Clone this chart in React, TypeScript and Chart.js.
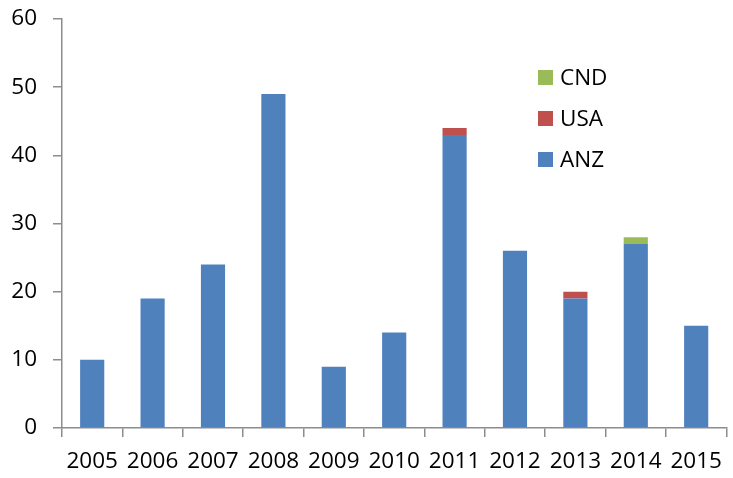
import React, { useEffect, useRef } from "react";
import { Chart, registerables } from "chart.js";

Chart.register(...registerables);

const years = ["2005", "2006", "2007", "2008", "2009", "2010", "2011", "2012", "2013", "2014", "2015"];
const anz = [10, 19, 24, 49, 9, 14, 43, 26, 19, 27, 15];
const usa = [0, 0, 0, 0, 0, 0, 1, 0, 1, 0, 0];
const cnd = [0, 0, 0, 0, 0, 0, 0, 0, 0, 1, 0];
const seriesNames = ["ANZ", "USA", "CND"];
const seriesColors = ["#4F81BD", "#C0504D", "#9BBB59"];

const FONT = '"Open Sans", "Liberation Sans", sans-serif';
const FONT_SIZE = 22.5;
const AXIS_COLOR = "#8C8C8C";

const insideLegend = {
  id: "insideLegend",
  afterDraw(chart: any) {
    const ctx = chart.ctx;
    const x0 = 538;
    const y0 = 70;
    const step = 41;
    const box = 15;
    ctx.save();
    ctx.font = `${FONT_SIZE}px ${FONT}`;
    ctx.textBaseline = "middle";
    ctx.textAlign = "left";
    const ds = chart.data.datasets.slice().reverse();
    ds.forEach((d: any, i: number) => {
      const y = y0 + i * step;
      ctx.fillStyle = d.backgroundColor;
      ctx.fillRect(x0, y, box, box);
      ctx.fillStyle = "#000";
      ctx.fillText(d.label, x0 + box + 7, y + box / 2 + 1);
    });
    ctx.restore();
  },
};

export default function App() {
  const ref = useRef<HTMLCanvasElement>(null);
  useEffect(() => {
    if (!ref.current) return;
    const data = [anz, usa, cnd];
    const chart = new Chart(ref.current, {
      type: "bar",
      data: {
        labels: years,
        datasets: seriesNames.map((name, i) => ({
          label: name,
          data: data[i],
          backgroundColor: seriesColors[i],
          borderWidth: 0,
          barPercentage: 0.4,
          categoryPercentage: 1,
        })),
      },
      options: {
        animation: false,
        responsive: true,
        maintainAspectRatio: false,
        layout: { padding: { left: 0, right: 2, top: 19, bottom: 0 } },
        plugins: {
          legend: { display: false },
          tooltip: { enabled: false },
        },
        scales: {
          x: {
            stacked: true,
            offset: true,
            grid: {
              display: true,
              offset: true,
              drawOnChartArea: false,
              drawTicks: true,
              tickLength: 9,
              color: AXIS_COLOR,
              lineWidth: 1.5,
            },
            border: { display: true, color: AXIS_COLOR, width: 1.5 },
            ticks: {
              color: "#000",
              font: { family: FONT, size: FONT_SIZE },
              padding: 11,
              maxRotation: 0,
              autoSkip: false,
            },
            afterFit: (s: any) => {
              s.height = 50;
            },
          },
          y: {
            stacked: true,
            min: 0,
            max: 60,
            grid: {
              display: true,
              drawOnChartArea: false,
              drawTicks: true,
              tickLength: 9,
              color: AXIS_COLOR,
              lineWidth: 1.5,
            },
            border: { display: true, color: AXIS_COLOR, width: 1.5 },
            ticks: {
              stepSize: 10,
              color: "#000",
              font: { family: FONT, size: FONT_SIZE },
              padding: 16,
            },
            afterFit: (s: any) => {
              s.width = 62;
              s.paddingTop = 0;
              s.paddingBottom = 0;
            },
          },
        },
      },
      plugins: [insideLegend],
    });
    return () => chart.destroy();
  }, []);
  return (
    <div style={{ position: "absolute", left: 0, top: 0, width: 733, height: 478, background: "#fff" }}>
      <canvas ref={ref} />
    </div>
  );
}
